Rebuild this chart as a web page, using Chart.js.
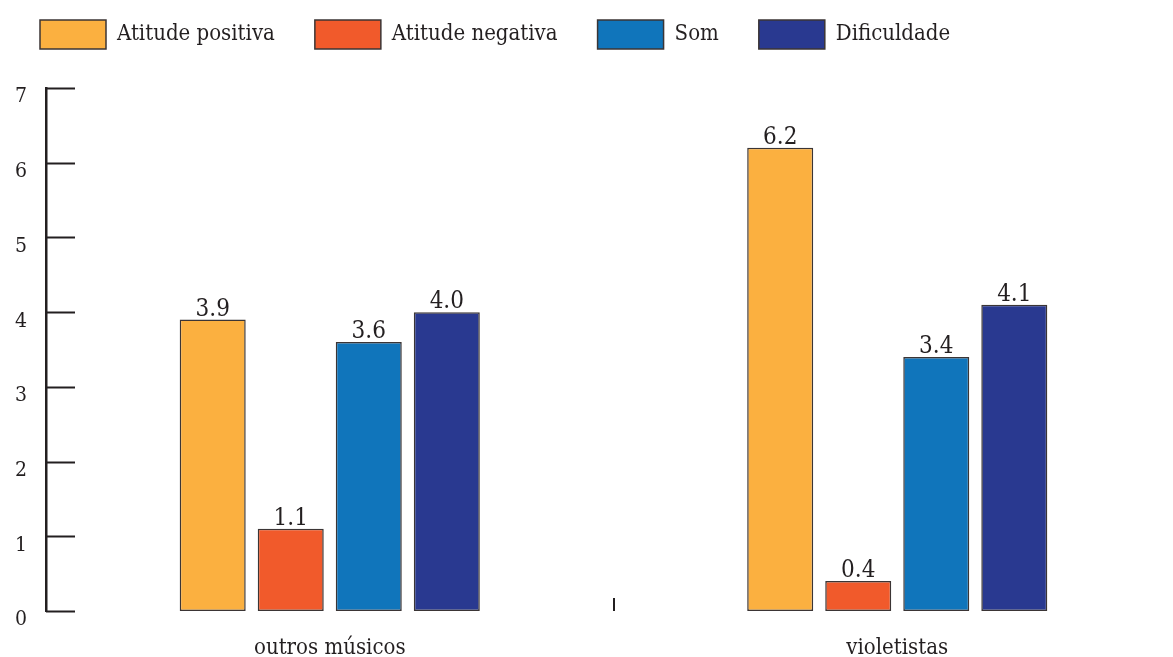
<!DOCTYPE html>
<html>
<head>
<meta charset="utf-8">
<script src="https://cdn.jsdelivr.net/npm/chart.js@4.4.1/dist/chart.umd.min.js"></script>
<style>
  html, body { margin: 0; padding: 0; background: #fff; overflow: hidden; }
  #wrap { width: 1190px; height: 657px; }
</style>
</head>
<body>
<div id="wrap"><canvas id="c" width="1190" height="657"></canvas></div>
<script>
const categories = ['outros músicos', 'violetistas'];
const seriesNames = ['Atitude positiva', 'Atitude negativa', 'Som', 'Dificuldade'];
const atitudePositiva = [3.9, 6.2];
const atitudeNegativa = [1.1, 0.4];
const som = [3.6, 3.4];
const dificuldade = [4.0, 4.1];
const yTicks = [0, 1, 2, 3, 4, 5, 6, 7];

const ink = '#231F20';
const fontFamily = '"DejaVu Serif Condensed", "DejaVu Serif", "Liberation Serif", serif';
const colors = ['#FBB040', '#F15A2B', '#1075BB', '#293990'];
const seriesValues = [atitudePositiva, atitudeNegativa, som, dificuldade];

const datasets = seriesNames.map((name, i) => ({
  label: name,
  data: seriesValues[i],
  backgroundColor: colors[i],
  borderColor: '#3b3535',
  borderWidth: 1.5,
  borderSkipped: false,
  categoryPercentage: 0.55,
  barPercentage: 0.846
}));

// Extra room between the legend row and the plot
const legendGap = {
  id: 'legendGap',
  beforeInit(chart) {
    const legend = chart.legend;
    if (!legend) return;
    const fit = legend.fit.bind(legend);
    legend.fit = function () { fit(); this.height += 29; };
  }
};

// Short marks on the value axis that point into the plot, plus the category divider
const axisMarks = {
  id: 'axisMarks',
  afterDraw(chart) {
    const { ctx, chartArea, scales } = chart;
    const y = scales.y, x = scales.x;
    ctx.save();
    ctx.strokeStyle = ink;
    ctx.lineWidth = 2;
    yTicks.forEach(v => {
      const py = Math.round(y.getPixelForValue(v)) + 0.5;
      ctx.beginPath();
      ctx.moveTo(chartArea.left, py);
      ctx.lineTo(chartArea.left + 29, py);
      ctx.stroke();
    });
    for (let i = 0; i < categories.length - 1; i++) {
      const px = Math.round((x.getPixelForValue(i) + x.getPixelForValue(i + 1)) / 2);
      ctx.beginPath();
      ctx.moveTo(px, chartArea.bottom - 13);
      ctx.lineTo(px, chartArea.bottom);
      ctx.stroke();
    }
    ctx.restore();
  }
};

// Value printed above each bar
const barValues = {
  id: 'barValues',
  afterDatasetsDraw(chart) {
    const { ctx } = chart;
    ctx.save();
    ctx.fillStyle = ink;
    ctx.font = '24px ' + fontFamily;
    ctx.textAlign = 'center';
    ctx.textBaseline = 'alphabetic';
    chart.data.datasets.forEach((ds, di) => {
      chart.getDatasetMeta(di).data.forEach((bar, i) => {
        ctx.fillText(ds.data[i].toFixed(1), bar.x, bar.y - 4);
      });
    });
    ctx.restore();
  }
};

new Chart(document.getElementById('c'), {
  type: 'bar',
  data: { labels: categories, datasets },
  options: {
    responsive: false,
    animation: false,
    devicePixelRatio: 1,
    layout: { padding: { top: -20, right: 9, bottom: 0, left: 0 } },
    plugins: {
      legend: {
        align: 'start',
        labels: {
          boxWidth: 66,
          boxHeight: 29,
          padding: 40,
          color: ink,
          font: { family: fontFamily, size: 22 }
        }
      },
      tooltip: { enabled: false }
    },
    scales: {
      x: {
        grid: { display: false, drawTicks: false },
        border: { display: false },
        ticks: { color: ink, padding: 24, font: { family: fontFamily, size: 22 } },
        afterFit(s) { s.height = 46; }
      },
      y: {
        min: 0,
        max: 7,
        afterBuildTicks(s) { s.ticks = yTicks.map(v => ({ value: v })); },
        grid: { display: false, drawTicks: false },
        border: { display: true, color: ink, width: 2.5 },
        ticks: { color: ink, padding: 19, labelOffset: 9, font: { family: fontFamily, size: 21 } },
        afterFit(s) { s.width = 46; }
      }
    }
  },
  plugins: [legendGap, axisMarks, barValues]
});
</script>
</body>
</html>
